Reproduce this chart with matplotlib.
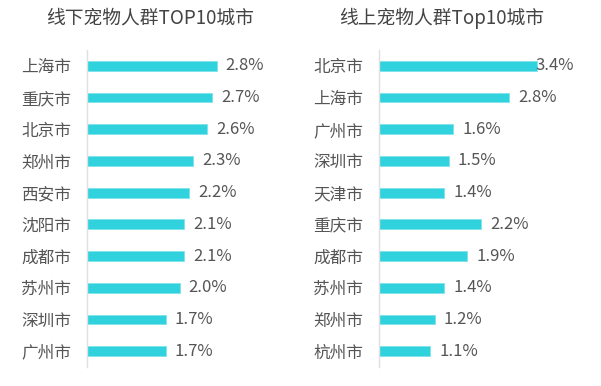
import matplotlib
matplotlib.use("Agg")
import matplotlib.pyplot as plt

plt.rcParams['font.family'] = ['Noto Sans CJK SC', 'DejaVu Sans']

left_title = "线下宠物人群TOP10城市"
left_cities = ["上海市", "重庆市", "北京市", "郑州市", "西安市", "沈阳市", "成都市", "苏州市", "深圳市", "广州市"]
left_values = [2.8, 2.7, 2.6, 2.3, 2.2, 2.1, 2.1, 2.0, 1.7, 1.7]

right_title = "线上宠物人群Top10城市"
right_cities = ["北京市", "上海市", "广州市", "深圳市", "天津市", "重庆市", "成都市", "苏州市", "郑州市", "杭州市"]
right_values = [3.4, 2.8, 1.6, 1.5, 1.4, 2.2, 1.9, 1.4, 1.2, 1.1]

W, H = 601, 386
fig = plt.figure(figsize=(W / 100, H / 100), dpi=100)

BAR = "#30D2DD"
TXT = "#555555"
PX_PER_UNIT = 46.3

def panel(x0_px, x1_px, clamp_px, cities, values, title, title_cx):
    top, bottom = 50, 367
    ax = fig.add_axes([x0_px / W, 1 - bottom / H, (x1_px - x0_px) / W, (bottom - top) / H])
    xmax = (x1_px - x0_px) / PX_PER_UNIT
    ax.set_xlim(0, xmax)
    ax.set_ylim(len(cities) - 0.5, -0.5)
    y = list(range(len(cities)))
    ax.barh(y, values, height=0.31, color=BAR, edgecolor="#7FE3EA", linewidth=0.6)
    ax.set_yticks(y)
    ax.set_yticklabels(cities, fontsize=12, color=TXT)
    ax.tick_params(axis='y', length=0, pad=11.5)
    ax.set_xticks([])
    for s in ["top", "right", "bottom"]:
        ax.spines[s].set_visible(False)
    ax.spines["left"].set_color("#E0E0E0")
    ax.spines["left"].set_linewidth(1)
    clamp = (clamp_px - x0_px) / PX_PER_UNIT
    label_w = 39 / PX_PER_UNIT
    pad = 9 / PX_PER_UNIT
    for yi, v in zip(y, values):
        xt = min(v + pad, clamp - label_w)
        ax.text(xt, yi, f"{v:.1f}%", ha="left", va="center", fontsize=12, color=TXT)
    fig.text(title_cx / W, 1 - 18 / H, title, ha="center", va="center", fontsize=13.5, color="#444444")

panel(87, 300, 580, left_cities, left_values, left_title, 150)
panel(379.3, 595, 574, right_cities, right_values, right_title, 442)

fig.savefig("out.png", dpi=100)
